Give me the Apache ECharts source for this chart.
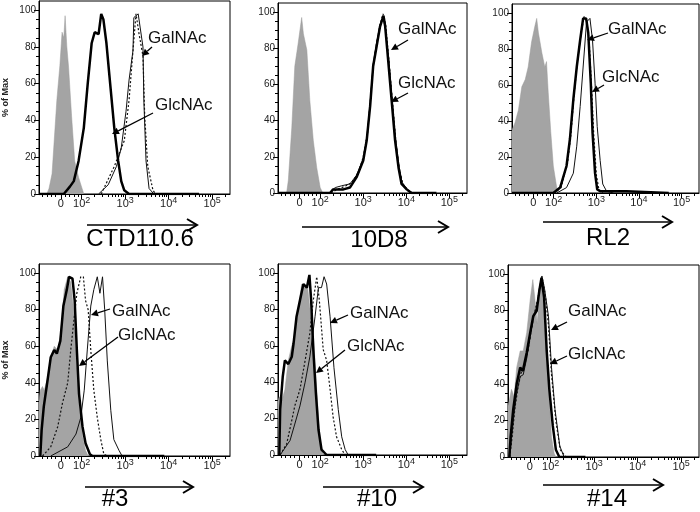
<!DOCTYPE html>
<html><head><meta charset="utf-8">
<script src="https://cdn.jsdelivr.net/npm/echarts@6/dist/echarts.min.js"></script>
<style>html,body{margin:0;padding:0;background:#fff}#c{width:700px;height:512px}</style>
</head><body><div id="c"></div>
<script>
// ---- labels ----
const panelTitles = ['CTD110.6', '10D8', 'RL2', '#3', '#10', '#14'];
const annotationLabels = ['GalNAc', 'GlcNAc'];
const yAxisName = '% of Max';
// x positions are in display units of the biexponential axis (2 = 10^2, 3 = 10^3 ...)
const xTickValues = [1.52, 2, 3, 4, 5];
const xTickLabels = ['0', '10{s|2}', '10{s|3}', '10{s|4}', '10{s|5}'];
const yTickValues = [0, 20, 40, 60, 80, 100];

// ---- data: [display position, % of max] ----
const p1Iso = [[1.2,0],[1.25,3],[1.32,11],[1.43,51],[1.5,70],[1.55,88],[1.59,85],[1.62,97],[1.64,98],[1.66,80],[1.7,69],[1.77,42],[1.84,18],[1.93,9],[2.05,0]];
const p1Thick = [[1.02,0],[1.59,0],[1.73,4],[1.82,7],[1.93,18],[2.05,36],[2.14,60],[2.23,82],[2.3,88],[2.34,89],[2.39,87],[2.45,98],[2.5,95],[2.57,82],[2.64,64],[2.75,36],[2.84,18],[2.91,7],[2.98,2],[3.09,0],[4.7,0]];
const p1Thin = [[2.39,0],[2.61,5],[2.8,15],[2.91,25],[3.02,45],[3.09,62],[3.18,78],[3.2,96],[3.3,98],[3.34,98],[3.41,80],[3.43,51],[3.48,18],[3.55,3],[3.66,0],[4.4,0]];
const p1Dot = [[2.45,0],[2.75,15],[2.98,29],[3.09,51],[3.18,78],[3.25,98],[3.32,87],[3.41,75],[3.45,42],[3.52,15],[3.64,2],[3.7,0]];

const p2Iso = [[1.22,0],[1.26,7],[1.34,36],[1.41,70],[1.49,83],[1.57,97],[1.61,88],[1.69,79],[1.76,51],[1.84,29],[1.92,14],[2.0,3],[2.06,0]];
const p2Thick = [[1.02,0],[2.23,0],[2.3,2],[2.54,2],[2.69,3],[2.85,9],[3.0,18],[3.08,29],[3.16,48],[3.23,70],[3.31,81],[3.39,92],[3.47,98],[3.51,92],[3.58,73],[3.66,51],[3.74,29],[3.82,14],[3.89,5],[4.01,2],[4.12,0],[4.7,0]];
const p2Thin = [[2.2,0],[2.35,3],[2.5,4],[2.69,5],[2.85,10],[3.0,19],[3.08,30],[3.16,50],[3.23,71],[3.31,83],[3.39,93],[3.46,97],[3.52,90],[3.59,75],[3.67,52],[3.75,30],[3.83,15],[3.9,6],[4.02,2],[4.15,0]];
const p2Dot = [[2.25,0],[2.4,2],[2.6,4],[2.75,6],[2.9,12],[3.0,20],[3.1,33],[3.17,52],[3.24,72],[3.32,84],[3.4,94],[3.46,99],[3.52,93],[3.6,72],[3.68,50],[3.76,28],[3.84,13],[3.92,5],[4.05,1],[4.15,0]];

const p3Iso = [[1.02,35],[1.09,39],[1.17,46],[1.25,59],[1.33,63],[1.40,70],[1.48,84],[1.56,93],[1.60,97],[1.64,89],[1.72,78],[1.79,70],[1.83,73],[1.87,56],[1.93,34],[1.99,15],[2.07,3],[2.11,0]];
const p3Thick = [[1.02,0],[1.99,0],[2.15,3],[2.30,15],[2.38,30],[2.46,52],[2.54,70],[2.62,85],[2.69,97],[2.76,97],[2.81,89],[2.87,61],[2.91,34],[2.97,11],[3.02,2],[3.09,1],[3.71,1],[3.75,0],[4.7,0]];
const p3Thin = [[2.07,0],[2.30,3],[2.46,11],[2.54,26],[2.62,48],[2.69,70],[2.77,95],[2.85,97],[2.91,85],[2.97,61],[3.02,37],[3.09,18],[3.15,5],[3.24,1],[3.4,0]];
const p3Dot = [[2.02,0],[2.17,3],[2.32,16],[2.4,32],[2.48,55],[2.56,74],[2.64,88],[2.71,98],[2.77,96],[2.83,85],[2.89,58],[2.94,32],[3.0,10],[3.06,2],[3.15,0]];

const p4Iso = [[1.02,30],[1.05,36],[1.10,38],[1.14,36],[1.22,43],[1.29,54],[1.37,60],[1.45,58],[1.52,67],[1.60,91],[1.68,98],[1.75,95],[1.83,76],[1.89,49],[1.94,29],[2.02,11],[2.09,3],[2.15,0]];
const p4Thick = [[1.05,0],[1.08,14],[1.13,27],[1.22,42],[1.29,54],[1.37,58],[1.43,56],[1.51,63],[1.58,82],[1.66,91],[1.71,98],[1.79,97],[1.84,85],[1.89,58],[1.94,34],[2.02,16],[2.09,7],[2.19,1],[2.25,0],[3.9,0]];
const p4Thin = [[1.29,0],[1.68,5],[1.87,12],[1.98,21],[2.06,36],[2.13,58],[2.21,82],[2.28,91],[2.36,98],[2.42,89],[2.48,98],[2.53,80],[2.59,52],[2.67,25],[2.74,9],[2.86,3],[2.93,0]];
const p4Dot = [[1.10,0],[1.29,5],[1.45,16],[1.56,29],[1.68,40],[1.75,58],[1.83,76],[1.89,89],[1.98,98],[2.04,98],[2.09,85],[2.15,80],[2.21,58],[2.28,36],[2.36,21],[2.44,9],[2.51,1],[2.59,0]];

const p5Iso = [[1.02,30],[1.05,32],[1.11,30],[1.18,36],[1.26,52],[1.34,60],[1.41,65],[1.49,80],[1.57,94],[1.65,92],[1.70,94],[1.76,81],[1.84,67],[1.90,43],[1.96,21],[2.01,6],[2.07,0]];
const p5Thick = [[1.05,0],[1.07,25],[1.13,43],[1.18,52],[1.26,50],[1.34,54],[1.38,61],[1.45,76],[1.53,85],[1.61,94],[1.69,92],[1.75,99],[1.79,85],[1.84,58],[1.90,34],[1.96,14],[2.03,3],[2.15,0],[3.3,0]];
const p5Thin = [[1.07,0],[1.30,8],[1.41,17],[1.53,27],[1.65,40],[1.76,54],[1.88,76],[1.96,92],[2.03,92],[2.09,98],[2.15,94],[2.23,76],[2.32,48],[2.42,25],[2.50,10],[2.58,3],[2.65,0]];
const p5Dot = [[1.07,0],[1.22,6],[1.34,19],[1.41,27],[1.53,36],[1.65,52],[1.76,67],[1.84,85],[1.92,98],[1.98,85],[2.07,58],[2.15,52],[2.23,36],[2.30,21],[2.38,10],[2.50,3],[2.58,0]];

const p6Iso = [[1.02,28],[1.05,31],[1.10,37],[1.16,33],[1.22,49],[1.30,58],[1.37,58],[1.45,68],[1.53,86],[1.59,97],[1.64,86],[1.69,73],[1.76,95],[1.79,97],[1.85,77],[1.91,53],[1.97,31],[2.02,11],[2.08,2],[2.12,0]];
const p6Thick = [[1.05,0],[1.08,11],[1.14,26],[1.22,40],[1.30,49],[1.36,47],[1.45,57],[1.53,68],[1.60,77],[1.68,80],[1.74,91],[1.79,98],[1.85,87],[1.91,58],[1.97,37],[2.05,17],[2.12,4],[2.20,0],[2.8,0]];
const p6Thin = [[1.06,0],[1.10,10],[1.16,24],[1.22,35],[1.30,44],[1.37,45],[1.45,54],[1.53,66],[1.60,76],[1.68,82],[1.74,92],[1.80,99],[1.86,92],[1.95,77],[2.02,49],[2.10,26],[2.21,6],[2.31,0]];
const p6Dot = [[1.06,0],[1.12,12],[1.18,27],[1.25,38],[1.32,46],[1.40,50],[1.48,58],[1.56,70],[1.63,79],[1.70,86],[1.76,93],[1.82,97],[1.88,88],[1.95,72],[2.02,45],[2.12,20],[2.22,4],[2.35,0]];

const panels = [
  {iso: p1Iso, thin: p1Thin, dot: p1Dot, thick: p1Thick},
  {iso: p2Iso, thin: p2Thin, dot: p2Dot, thick: p2Thick},
  {iso: p3Iso, thin: p3Thin, dot: p3Dot, thick: p3Thick},
  {iso: p4Iso, thin: p4Thin, dot: p4Dot, thick: p4Thick},
  {iso: p5Iso, thin: p5Thin, dot: p5Dot, thick: p5Thick},
  {iso: p6Iso, thin: p6Thin, dot: p6Dot, thick: p6Thick}
];

// ---- layout (pixels) ----
const X_MIN = 1.02, X_MAX = 5.41, Y_MAX = 105;
const boxes = [
  {left: 37, top: 1, width: 193, height: 193},
  {left: 278, top: 3, width: 189, height: 190},
  {left: 512, top: 4, width: 187, height: 189},
  {left: 38, top: 264, width: 192, height: 192},
  {left: 278, top: 264, width: 189, height: 191},
  {left: 508, top: 265, width: 191, height: 192}
];
const titleLayout = [
  {cx: 140, cy: 239, ax0: 87, ax1: 197, ay: 225},
  {cx: 379, cy: 240, ax0: 302, ax1: 448, ay: 227},
  {cx: 608, cy: 238, ax0: 543, ax1: 672, ay: 222},
  {cx: 115, cy: 499, ax0: 85, ax1: 193, ay: 487},
  {cx: 377, cy: 499, ax0: 323, ax1: 423, ay: 487},
  {cx: 607, cy: 499, ax0: 543, ax1: 663, ay: 485}
];
const annLayout = [
  [{tx: 148, ty: 38, x0: 152, y0: 47, x1: 142, y1: 56}, {tx: 155, ty: 105, x0: 153, y0: 113, x1: 112, y1: 134}],
  [{tx: 398, ty: 29, x0: 408, y0: 40, x1: 391, y1: 50}, {tx: 398, ty: 83, x0: 408, y0: 93, x1: 391, y1: 102}],
  [{tx: 608, ty: 29, x0: 608, y0: 33, x1: 587, y1: 40}, {tx: 602, ty: 77, x0: 604, y0: 85, x1: 592, y1: 92}],
  [{tx: 112, ty: 311, x0: 110, y0: 309, x1: 91, y1: 315}, {tx: 118, ty: 335, x0: 118, y0: 337, x1: 79, y1: 366}],
  [{tx: 350, ty: 313, x0: 348, y0: 315, x1: 330, y1: 323}, {tx: 347, ty: 346, x0: 345, y0: 350, x1: 316, y1: 373}],
  [{tx: 568, ty: 311, x0: 567, y0: 322, x1: 551, y1: 330}, {tx: 568, ty: 354, x0: 567, y0: 356, x1: 550, y1: 364}]
];

// axis minor tick positions
const xMinor = [1.1, 1.2, 1.3, 1.4, 1.62, 1.72, 1.82, 1.92];
for (let n = 2; n <= 4; n++) for (let k = 2; k <= 9; k++) xMinor.push(n + Math.log10(k));
xMinor.push(5 + Math.log10(2));
const yMinor = [];
for (let v = 5; v <= 100; v += 5) if (v % 20 !== 0) yMinor.push(v);

const FONT = 'Liberation Sans';
const option = {animation: false, backgroundColor: '#fff', grid: [], xAxis: [], yAxis: [], series: [], graphic: []};

panels.forEach((p, i) => {
  const b = boxes[i];
  option.grid.push({left: b.left, top: b.top, width: b.width, height: b.height, show: true, borderColor: '#000', borderWidth: 1, backgroundColor: 'transparent'});
  option.xAxis.push({
    type: 'value', gridIndex: i, min: X_MIN, max: X_MAX, position: 'bottom',
    axisLine: {show: true, onZero: false, lineStyle: {color: '#000', width: 1}},
    splitLine: {show: false},
    axisTick: {show: true, customValues: xTickValues, length: 5, lineStyle: {color: '#000', width: 1}},
    axisLabel: {show: true, customValues: xTickValues, fontSize: 11, color: '#222', margin: 2, fontFamily: FONT,
      verticalAlign: 'top', lineHeight: 16,
      rich: {s: {fontSize: 9, fontFamily: FONT, color: '#222', verticalAlign: 'top', lineHeight: 10}},
      formatter: v => { const k = xTickValues.findIndex(t => Math.abs(t - v) < 1e-6); return k >= 0 ? xTickLabels[k] : ''; }}
  });
  option.xAxis.push({
    type: 'value', gridIndex: i, min: X_MIN, max: X_MAX, position: 'bottom', offset: 0,
    axisLine: {show: false}, splitLine: {show: false},
    axisTick: {show: true, customValues: xMinor, length: 3, lineStyle: {color: '#000', width: 1}},
    axisLabel: {show: false}
  });
  const yMain = {
    type: 'value', gridIndex: i, min: 0, max: Y_MAX, position: 'left',
    axisLine: {show: true, onZero: false, lineStyle: {color: '#000', width: 1}},
    splitLine: {show: false},
    axisTick: {show: true, customValues: yTickValues, length: 5, lineStyle: {color: '#000', width: 1}},
    axisLabel: {show: true, customValues: yTickValues, fontSize: 10, color: '#222', margin: 3, fontFamily: FONT}
  };
  if (i === 0 || i === 3) {
    yMain.name = yAxisName;
    yMain.nameLocation = 'middle';
    yMain.nameRotate = 90;
    yMain.nameGap = 29;
    yMain.nameTextStyle = {fontSize: 9, fontWeight: 'bold', color: '#222', fontFamily: FONT};
  }
  option.yAxis.push(yMain);
  option.yAxis.push({
    type: 'value', gridIndex: i, min: 0, max: Y_MAX, position: 'left', offset: 0,
    axisLine: {show: false}, splitLine: {show: false},
    axisTick: {show: true, customValues: yMinor, length: 3, lineStyle: {color: '#000', width: 1}},
    axisLabel: {show: false}
  });
  const base = {type: 'line', xAxisIndex: 2 * i, yAxisIndex: 2 * i, showSymbol: false, symbol: 'none', silent: true};
  option.series.push(Object.assign({}, base, {data: p.iso, lineStyle: {color: '#9a9a9a', width: 0.5}, areaStyle: {color: '#a4a4a4', opacity: 1, origin: 'start'}, z: 1}));
  option.series.push(Object.assign({}, base, {data: p.thin, lineStyle: {color: '#111', width: 1}, z: 2}));
  option.series.push(Object.assign({}, base, {data: p.dot, lineStyle: {color: '#111', width: 1.2, type: [2, 2]}, z: 3}));
  option.series.push(Object.assign({}, base, {data: p.thick, lineStyle: {color: '#000', width: 2.5}, z: 4}));

  // title and arrow below each panel
  const t = titleLayout[i];
  option.graphic.push({type: 'text', x: t.cx, y: t.cy, style: {text: panelTitles[i], font: '24px "' + FONT + '"', fill: '#000', align: 'center', verticalAlign: 'middle'}});
  option.graphic.push({type: 'line', shape: {x1: t.ax0, y1: t.ay, x2: t.ax1, y2: t.ay}, style: {stroke: '#000', lineWidth: 1.5}});
  option.graphic.push({type: 'polyline', shape: {points: [[t.ax1 - 10, t.ay - 6], [t.ax1, t.ay], [t.ax1 - 10, t.ay + 6]]}, style: {stroke: '#000', lineWidth: 2, fill: null}});

  // annotations
  annLayout[i].forEach((a, j) => {
    option.graphic.push({type: 'text', x: a.tx, y: a.ty, style: {text: annotationLabels[j], font: '17px "' + FONT + '"', fill: '#111', align: 'left', verticalAlign: 'middle'}, z: 10});
    const dx = a.x1 - a.x0, dy = a.y1 - a.y0, L = Math.hypot(dx, dy), ux = dx / L, uy = dy / L;
    const hl = 7, hw = 3.5;
    const bx = a.x1 - ux * hl, by = a.y1 - uy * hl;
    option.graphic.push({type: 'line', shape: {x1: a.x0, y1: a.y0, x2: bx, y2: by}, style: {stroke: '#000', lineWidth: 1.3}, z: 10});
    option.graphic.push({type: 'polygon', shape: {points: [[a.x1, a.y1], [bx - uy * hw, by + ux * hw], [bx + uy * hw, by - ux * hw]]}, style: {fill: '#000'}, z: 10});
  });
});

const chart = echarts.init(document.getElementById('c'), null, {renderer: 'canvas'});
chart.setOption(option);
</script>
</body></html>
